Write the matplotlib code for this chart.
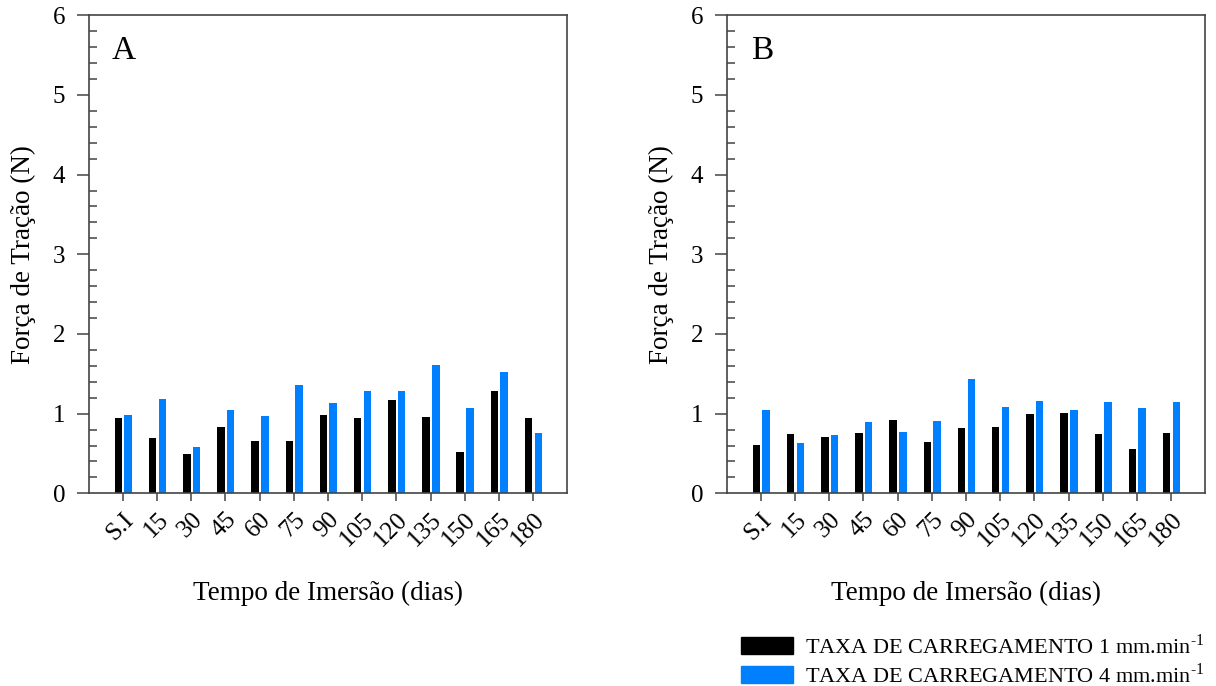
import numpy as np
import matplotlib
matplotlib.use("Agg")
import matplotlib.pyplot as plt
from matplotlib.patches import Patch
from matplotlib.ticker import MultipleLocator

plt.rcParams['font.family'] = ['Liberation Serif', 'DejaVu Serif']
plt.rcParams['mathtext.fontset'] = 'custom'
plt.rcParams['mathtext.rm'] = 'Liberation Serif'

# dados
categorias = ["S.I", "15", "30", "45", "60", "75", "90", "105", "120", "135", "150", "165", "180"]
a_1mm = [0.94, 0.70, 0.49, 0.83, 0.66, 0.66, 0.98, 0.94, 1.17, 0.96, 0.52, 1.28, 0.95]
a_4mm = [0.98, 1.18, 0.58, 1.04, 0.97, 1.36, 1.13, 1.29, 1.28, 1.61, 1.07, 1.52, 0.76]
b_1mm = [0.61, 0.74, 0.71, 0.76, 0.92, 0.64, 0.82, 0.83, 0.99, 1.01, 0.74, 0.55, 0.76]
b_4mm = [1.04, 0.63, 0.73, 0.89, 0.77, 0.91, 1.44, 1.08, 1.16, 1.05, 1.14, 1.07, 1.14]

preto = "#000000"
azul = "#0080FF"
cinza = "#444444"

fig = plt.figure(figsize=(12.16, 6.86), dpi=100)
ax_a = fig.add_axes([0.0729, 0.2809, 0.3936, 0.6968])
ax_b = fig.add_axes([0.5976, 0.2809, 0.3936, 0.6968])


def painel(ax, s1, s4, letra):
    x = np.arange(len(categorias))
    ax.bar(x - 0.13, s1, width=0.22, color=preto)
    ax.bar(x + 0.155, s4, width=0.22, color=azul)
    ax.set_xlim(-1, 13)
    ax.set_ylim(0, 6)
    ax.set_xticks(x)
    ax.set_xticklabels(categorias, rotation=45, ha="right", rotation_mode="anchor", fontsize=18)
    ax.yaxis.set_major_locator(MultipleLocator(1))
    ax.yaxis.set_minor_locator(MultipleLocator(0.2))
    ax.tick_params(axis="y", which="major", direction="out", length=9, width=1.1, color=cinza, labelsize=18, pad=8)
    ax.tick_params(axis="y", which="minor", direction="in", length=5.5, width=1.1, color=cinza)
    ax.tick_params(axis="x", direction="out", length=6, width=1.1, color=cinza, pad=5)
    for s in ax.spines.values():
        s.set_color(cinza)
        s.set_linewidth(1.2)
    ax.set_ylabel("Força de Tração (N)", fontsize=19.5, labelpad=12)
    ax.set_xlabel("Tempo de Imersão (dias)", fontsize=19.5, labelpad=22)
    ax.text(0.074, 0.925, letra, transform=ax.transAxes, fontsize=24, va="center", ha="center")


painel(ax_a, a_1mm, a_4mm, "A")
painel(ax_b, b_1mm, b_4mm, "B")

handles = [Patch(color=preto, label=r"TAXA DE CARREGAMENTO 1 mm.min$^{\text{-1}}$"),
           Patch(color=azul, label=r"TAXA DE CARREGAMENTO 4 mm.min$^{\text{-1}}$")]
fig.legend(handles=handles, loc="upper left", bbox_to_anchor=(0.609, 0.076),
           bbox_transform=fig.transFigure, frameon=False, fontsize=16,
           handlelength=2.35, handleheight=0.8, handletextpad=0.55, labelspacing=0.2,
           borderaxespad=0, borderpad=0)

fig.savefig("out.png", dpi=100)
